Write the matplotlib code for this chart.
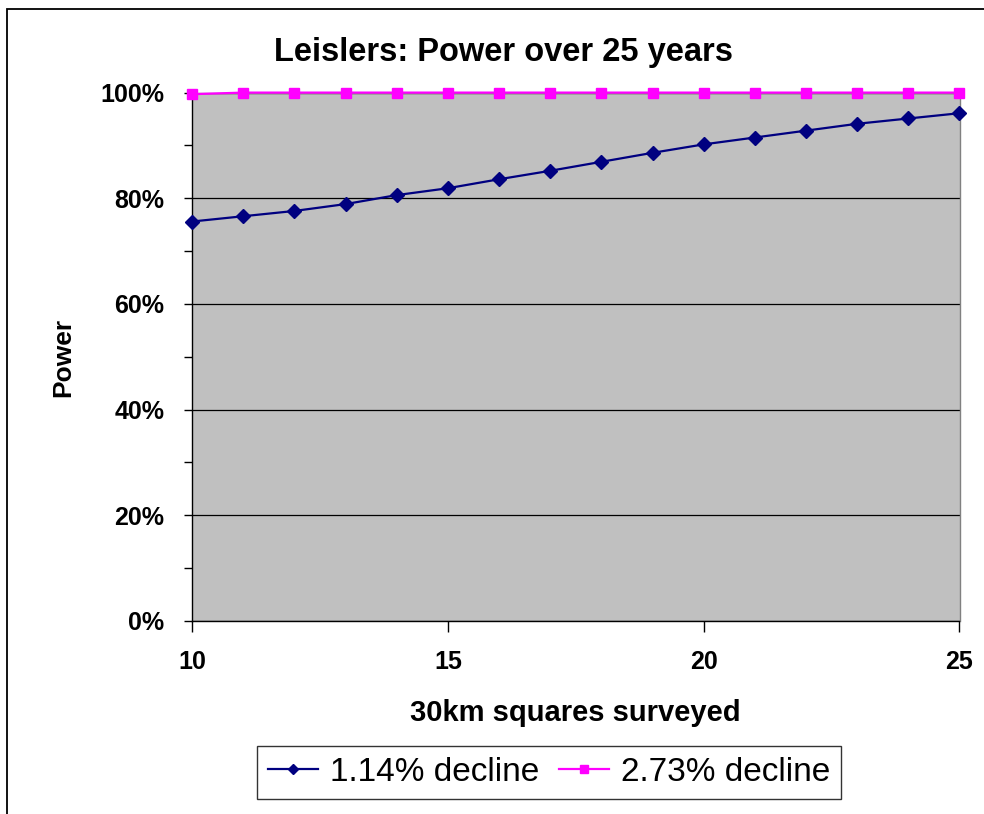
import matplotlib
matplotlib.use("Agg")
import matplotlib.pyplot as plt
from matplotlib.ticker import PercentFormatter, MultipleLocator, FixedLocator
from matplotlib.patches import Rectangle

plt.rcParams['font.family'] = ['Liberation Sans', 'DejaVu Sans']

squares = [10, 11, 12, 13, 14, 15, 16, 17, 18, 19, 20, 21, 22, 23, 24, 25]
decline_114 = [75.6, 76.6, 77.6, 78.9, 80.6, 81.9, 83.6, 85.2, 86.9, 88.6,
               90.2, 91.5, 92.8, 94.1, 95.1, 96.1]
decline_273 = [99.7, 100, 100, 100, 100, 100, 100, 100, 100, 100,
               100, 100, 100, 100, 100, 100]
series_labels = ["1.14% decline", "2.73% decline"]
x_ticks = [10, 15, 20, 25]
title = "Leislers: Power over 25 years"
xlabel = "30km squares surveyed"
ylabel = "Power"

W, H = 984, 814
fig = plt.figure(figsize=(W / 100, H / 100), dpi=100)
fig.patch.set_facecolor('white')

# outer chart border (clipped by the image on right and bottom)
fig.add_artist(Rectangle((7 / W, -0.1), 2.0, 1 - 9 / H + 0.1,
                         transform=fig.transFigure, fill=False,
                         edgecolor='black', linewidth=1.3))

left, right = 192 / W, 959.5 / W
bottom, top = 1 - 621 / H, 1 - 92.6 / H
ax = fig.add_axes([left, bottom, right - left, top - bottom])
ax.set_facecolor('#C0C0C0')

ax.set_xlim(10, 25)
ax.set_ylim(0, 100)

ax.yaxis.set_major_locator(MultipleLocator(20))
ax.yaxis.set_minor_locator(MultipleLocator(10))
ax.yaxis.set_major_formatter(PercentFormatter(100, decimals=0))
ax.xaxis.set_major_locator(FixedLocator(x_ticks))

ax.grid(axis='y', which='major', color='black', linewidth=0.9)
ax.set_axisbelow(True)

for s in ['left', 'bottom']:
    ax.spines[s].set_color('black')
    ax.spines[s].set_linewidth(1.0)
for s in ['right', 'top']:
    ax.spines[s].set_color('#808080')
    ax.spines[s].set_linewidth(1.0)

ax.tick_params(axis='y', which='major', direction='out', length=6, width=1,
               labelsize=18, pad=14)
ax.tick_params(axis='y', which='minor', direction='out', length=6, width=1)
ax.tick_params(axis='x', which='major', direction='out', length=8, width=1,
               labelsize=18, pad=13)
for lab in ax.get_xticklabels() + ax.get_yticklabels():
    lab.set_fontweight('bold')

l1, = ax.plot(squares, decline_114, color='#000080', linewidth=1.6,
              marker='D', markersize=7.5, markerfacecolor='#000080',
              markeredgecolor='#000080', clip_on=False, zorder=4,
              label=series_labels[0])
l2, = ax.plot(squares, decline_273, color='#FF00FF', linewidth=1.6,
              marker='s', markersize=7.5, markerfacecolor='#FF00FF',
              markeredgecolor='#FF00FF', clip_on=False, zorder=5,
              label=series_labels[1])

fig.text(503 / W, 1 - 52 / H, title, ha='center', va='center',
         fontsize=23.5, fontweight='bold')
fig.text(575 / W, 1 - 713 / H, xlabel, ha='center', va='center',
         fontsize=21, fontweight='bold')
fig.text(63 / W, 1 - 357 / H, ylabel, ha='center', va='center',
         rotation=90, fontsize=19, fontweight='bold')

leg = fig.legend(handles=[l1, l2], loc='center',
                 bbox_to_anchor=(549 / W, 1 - 772.5 / H), ncol=2,
                 fontsize=24, frameon=True, fancybox=False,
                 edgecolor='black', handlelength=1.5, handletextpad=0.35,
                 columnspacing=0.6, borderpad=0.33, borderaxespad=0)
leg.get_frame().set_linewidth(1.0)
for h in leg.legend_handles:
    h.set_markersize(5.5)

fig.savefig('out.png', dpi=100, facecolor='white')
